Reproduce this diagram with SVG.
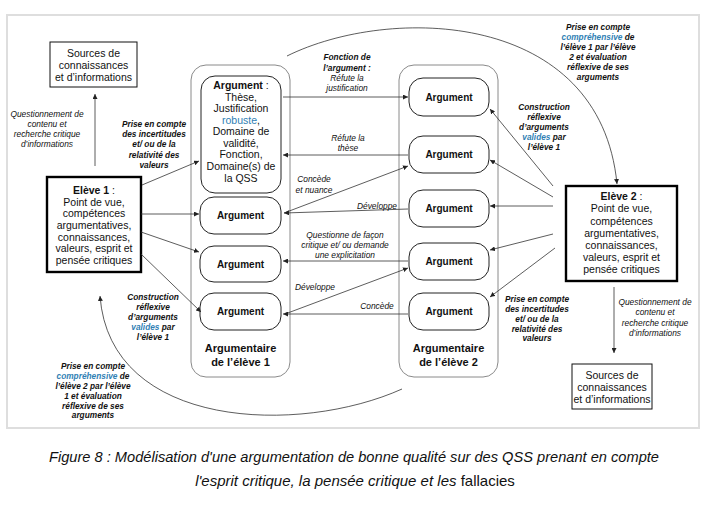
<svg xmlns="http://www.w3.org/2000/svg" width="710" height="507" viewBox="0 0 710 507">
<defs>
<style>
text{font-family:"Liberation Sans",Arial,Helvetica,sans-serif;fill:#111;text-anchor:middle}
.t{font-size:10.5px}
.b{font-weight:bold}
.h{font-size:11px;font-weight:bold}
.a{font-size:10px;font-weight:bold}
.i{font-size:8.4px;font-style:italic}
.bi{font-size:8.3px;font-style:italic;font-weight:bold}
.blue{fill:#2f80b4}
.cap{font-size:15px;font-style:italic}
.n{font-style:normal}
.w{fill:#fff;stroke:#111;stroke-width:1}
.r{fill:#fff;stroke:#222;stroke-width:1}
.o{fill:#fff;stroke:#8a8a8a;stroke-width:1}
.e{fill:#fff;stroke:#000;stroke-width:2.4}
.ca{fill:none;stroke:#333;stroke-width:0.8;marker-end:url(#ah)}
</style>
<marker id="ah" viewBox="0 0 6 6" refX="6" refY="3" markerWidth="5" markerHeight="5" markerUnits="userSpaceOnUse" orient="auto">
<path d="M0,0 L6,3 L0,6 z" fill="#222"/>
</marker>
</defs>
<rect width="710" height="507" fill="#fff"/>
<rect x="7" y="15" width="692" height="413" fill="none" stroke="#dedede" stroke-width="2"/>

<g id="argumentaire1">
<rect class="o" x="191" y="65" width="99" height="312" rx="15"/>
<text class="h" x="240.5" y="352">Argumentaire</text>
<text class="h" x="240.5" y="366">de l’élève 1</text>
</g>
<g id="argumentaire2">
<rect class="o" x="399" y="65" width="99" height="312" rx="15"/>
<text class="h" x="448.5" y="352">Argumentaire</text>
<text class="h" x="448.5" y="366">de l’élève 2</text>
</g>

<g id="sources1">
<rect class="w" x="50" y="42" width="87" height="45" stroke="#555"/>
<text class="t" x="93.5" y="57">Sources de</text>
<text class="t" x="93.5" y="69">connaissances</text>
<text class="t" x="93.5" y="81">et d’informations</text>
</g>
<g id="sources2">
<rect class="w" x="572" y="364" width="80" height="45" stroke="#555"/>
<text class="t" x="612" y="379">Sources de</text>
<text class="t" x="612" y="391">connaissances</text>
<text class="t" x="612" y="403">et d’informations</text>
</g>

<g id="eleve1">
<rect class="e" x="47" y="177" width="94" height="95"/>
<text class="t" x="94" y="194"><tspan class="b">Elève 1</tspan> :</text>
<text class="t" x="94" y="205.5">Point de vue,</text>
<text class="t" x="94" y="217">compétences</text>
<text class="t" x="94" y="229">argumentatives,</text>
<text class="t" x="94" y="240.5">connaissances,</text>
<text class="t" x="94" y="252">valeurs, esprit et</text>
<text class="t" x="94" y="263.5">pensée critiques</text>
</g>
<g id="eleve2">
<rect class="e" x="566" y="186" width="111" height="95"/>
<text class="t" x="621.5" y="200"><tspan class="b">Elève 2</tspan> :</text>
<text class="t" x="621.5" y="212">Point de vue,</text>
<text class="t" x="621.5" y="224.5">compétences</text>
<text class="t" x="621.5" y="236.5">argumentatives,</text>
<text class="t" x="621.5" y="249">connaissances,</text>
<text class="t" x="621.5" y="261">valeurs, esprit et</text>
<text class="t" x="621.5" y="273">pensée critiques</text>
</g>

<g id="arg1main">
<rect class="r" x="201" y="76" width="80" height="117" rx="14"/>
<text class="t" x="241" y="89"><tspan class="b">Argument</tspan> :</text>
<text class="t" x="241" y="100.5">Thèse,</text>
<text class="t" x="241" y="112">Justification</text>
<text class="t" x="241" y="123.5"><tspan class="blue">robuste</tspan>,</text>
<text class="t" x="241" y="135">Domaine de</text>
<text class="t" x="241" y="146.5">validité,</text>
<text class="t" x="241" y="158">Fonction,</text>
<text class="t" x="241" y="170">Domaine(s) de</text>
<text class="t" x="241" y="181.5">la QSS</text>
</g>
<g id="arg1b"><rect class="r" x="200" y="197" width="81" height="37" rx="14"/><text class="a" x="240.5" y="219">Argument</text></g>
<g id="arg1c"><rect class="r" x="200" y="246" width="81" height="36" rx="14"/><text class="a" x="240.5" y="267.5">Argument</text></g>
<g id="arg1d"><rect class="r" x="200" y="293" width="81" height="37" rx="14"/><text class="a" x="240.5" y="315">Argument</text></g>

<g id="arg2a"><rect class="r" x="409" y="78" width="80" height="38" rx="14"/><text class="a" x="449" y="100.5">Argument</text></g>
<g id="arg2b"><rect class="r" x="409" y="136" width="80" height="37" rx="14"/><text class="a" x="449" y="158">Argument</text></g>
<g id="arg2c"><rect class="r" x="409" y="190" width="80" height="37" rx="14"/><text class="a" x="449" y="212">Argument</text></g>
<g id="arg2d"><rect class="r" x="409" y="243" width="80" height="37" rx="14"/><text class="a" x="449" y="265">Argument</text></g>
<g id="arg2e"><rect class="r" x="409" y="293" width="80" height="37" rx="14"/><text class="a" x="449" y="315">Argument</text></g>

<g id="connectors">
<path class="ca" d="M95,166 L95,94"/>
<path class="ca" d="M614,287 L614,353"/>
<path class="ca" d="M142,185 L199,161"/>
<path class="ca" d="M141,214 L199,214"/>
<path class="ca" d="M141,232 L199,252"/>
<path class="ca" d="M141,254 L201,312"/>
<path class="ca" d="M283,97 L408,97"/>
<path class="ca" d="M408,155 L283,155"/>
<path class="ca" d="M284,213 L408,166"/>
<path class="ca" d="M408,209 L284,213"/>
<path class="ca" d="M408,261 L283,261"/>
<path class="ca" d="M285,314 L408,268"/>
<path class="ca" d="M408,314 L283,314"/>
<path class="ca" d="M553,186 L490,109"/>
<path class="ca" d="M553,197 L490,160"/>
<path class="ca" d="M553,206 L490,206"/>
<path class="ca" d="M553,234 L490,250"/>
<path class="ca" d="M555,248 L490,297"/>
<path class="ca" d="M287,56 C390,5 600,10 617,184"/>
<path class="ca" d="M402,389 C300,435 110,430 100,296"/>
</g>

<g id="labels">
<text class="i" x="47" y="117">Questionnement de</text>
<text class="i" x="47" y="127">contenu et</text>
<text class="i" x="47" y="137">recherche critique</text>
<text class="i" x="47" y="147">d’informations</text>

<text class="i" x="655" y="305">Questionnement de</text>
<text class="i" x="655" y="315">contenu et</text>
<text class="i" x="655" y="326">recherche critique</text>
<text class="i" x="655" y="336">d’informations</text>

<text class="bi" x="154" y="127">Prise en compte</text>
<text class="bi" x="154" y="137">des incertitudes</text>
<text class="bi" x="154" y="147">et/ ou de la</text>
<text class="bi" x="154" y="157.5">relativité des</text>
<text class="bi" x="154" y="167.5">valeurs</text>

<text class="bi" x="537" y="302">Prise en compte</text>
<text class="bi" x="537" y="312">des incertitudes</text>
<text class="bi" x="537" y="321.5">et/ ou de la</text>
<text class="bi" x="537" y="331.5">relativité des</text>
<text class="bi" x="537" y="341">valeurs</text>

<text class="bi" x="153" y="300">Construction</text>
<text class="bi" x="153" y="310">réflexive</text>
<text class="bi" x="153" y="320">d’arguments</text>
<text class="bi" x="153" y="330"><tspan class="blue">valides</tspan> par</text>
<text class="bi" x="153" y="340">l’élève 1</text>

<text class="bi" x="544" y="110">Construction</text>
<text class="bi" x="544" y="120">réflexive</text>
<text class="bi" x="544" y="130">d’arguments</text>
<text class="bi" x="544" y="140"><tspan class="blue">valides</tspan> par</text>
<text class="bi" x="544" y="150">l’élève 1</text>

<text class="bi" x="598" y="30">Prise en compte</text>
<text class="bi" x="598" y="40"><tspan class="blue">compréhensive</tspan> de</text>
<text class="bi" x="598" y="50">l’élève 1 par l’élève</text>
<text class="bi" x="598" y="60">2 et évaluation</text>
<text class="bi" x="598" y="70">réflexive de ses</text>
<text class="bi" x="598" y="80">arguments</text>

<text class="bi" x="93" y="369">Prise en compte</text>
<text class="bi" x="93" y="379"><tspan class="blue">compréhensive</tspan> de</text>
<text class="bi" x="93" y="389">l’élève 2 par l’élève</text>
<text class="bi" x="93" y="399">1 et évaluation</text>
<text class="bi" x="93" y="408.5">réflexive de ses</text>
<text class="bi" x="93" y="418">arguments</text>

<text class="bi" x="347" y="60">Fonction de</text>
<text class="bi" x="347" y="71">l’argument :</text>
<text class="i" x="347" y="81">Réfute la</text>
<text class="i" x="347" y="91">justification</text>

<text class="i" x="348" y="141">Réfute la</text>
<text class="i" x="348" y="151">thèse</text>

<text class="i" x="314" y="182">Concède</text>
<text class="i" x="314" y="192.5">et nuance</text>

<text class="i" x="377" y="209">Développe</text>

<text class="i" x="345" y="238">Questionne de façon</text>
<text class="i" x="345" y="248">critique et/ ou demande</text>
<text class="i" x="345" y="258">une explicitation</text>

<text class="i" x="315" y="290">Développe</text>
<text class="i" x="377" y="309">Concède</text>
</g>

<g id="caption">
<text class="cap" x="354" y="462" textLength="610" lengthAdjust="spacingAndGlyphs">Figure 8 : Modélisation d'une argumentation de bonne qualité sur des QSS prenant en compte</text>
<text class="cap" x="355" y="486">l'esprit critique, la pensée critique et les <tspan class="n">fallacies</tspan></text>
</g>
</svg>
